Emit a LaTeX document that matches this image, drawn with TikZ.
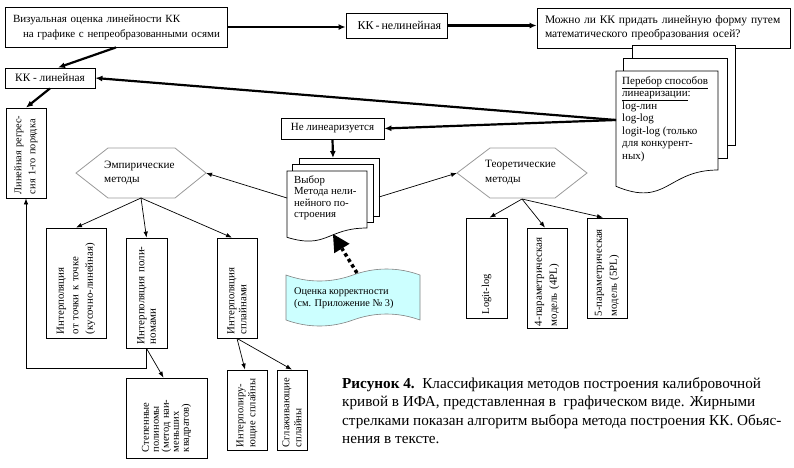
\documentclass[tikz,border=0pt]{standalone}
\usepackage{fontspec}
\setmainfont{Liberation Serif}
\usetikzlibrary{arrows.meta,calc}
\definecolor{cyanfill}{RGB}{204,255,255}
\newcommand{\fs}[2]{\fontsize{#1}{#2}\selectfont}
\tikzset{
 bx/.style={draw, line width=0.8pt, fill=white, inner sep=2pt},
 vbox/.style={draw, line width=0.8pt, fill=white, rotate=90, align=left, inner xsep=4pt, inner ysep=0pt},
 txt/.style={align=left, inner sep=0pt},
 thk/.style={line width=2.2pt, -{Latex[length=7pt,width=6pt]}},
 thn/.style={line width=0.7pt, -{Latex[length=6pt,width=4.5pt]}},
 hex/.style={draw=gray!80, line width=0.8pt},
 sheet/.style={draw, line width=0.7pt, fill=white},
 dotarr/.style={line width=3.5pt, dash pattern=on 3.5pt off 3pt, -{Triangle[length=17pt,width=18pt,line width=0pt]}},
}
\begin{document}
\begin{tikzpicture}[x=1pt,y=-1pt]
\useasboundingbox (0,0) rectangle (794,467);

% top row
\node[bx, minimum width=222pt, minimum height=40pt, text width=206pt, align=left, font=\fs{11}{15}] (b1) at (116,27)
  {\makebox[165pt][s]{Визуальная оценка линейности КК}\\\mbox{\hspace*{10pt}на графике с непреобразованными осями}};
\node[bx, minimum width=101pt, minimum height=25pt, font=\fs{12}{14}] (knl) at (396.5,25.5) {\makebox[78pt][s]{КК - нелинейная}};
\node[bx, minimum width=253pt, minimum height=40pt, text width=237pt, align=left, font=\fs{11.5}{14}] (b3) at (663.5,28)
  {\mbox{Можно ли КК придать линейную форму путем}\\\mbox{математического преобразования осей?}};
\node[bx, minimum width=90pt, minimum height=20pt, font=\fs{11.3}{14}] (kl) at (50,78) {КК - линейная};
\node[bx, minimum width=103pt, minimum height=21pt, font=\fs{11}{14}] (nl) at (332.5,128.5) {Не линеаризуется};

% Perebor stack
\draw[sheet] (632,45) rectangle (735,145);
\draw[sheet] (623,58) rectangle (727,158);
\draw[sheet] (616,71) -- (718,71) -- (718,170) .. controls (667,170) and (667,207.7) .. (616,186.3) -- cycle;
\node[txt, anchor=west, font=\fs{11}{12.5}] (per) at (622,119)
  {\underline{Перебор способов}\\\underline{линеаризации}:\\log-лин\\log-log\\\mbox{logit-log (только}\\\mbox{для конкурент-}\\ных)};
\coordinate (per-l) at (616,120);

% Vybor stack
\draw[sheet] (299,158) rectangle (379,216);
\draw[sheet] (292,164) rectangle (373,222);
\draw[sheet] (287,171) -- (367,171) -- (367,228) .. controls (327,228) and (327,249.6) .. (287,237.3) -- cycle;
\node[txt, anchor=west, font=\fs{10.8}{11.5}] (vyb) at (294,198)
  {Выбор\\\mbox{Метода нели-}\\\mbox{нейного по-}\\строения};
\coordinate (vyb-t) at (333,158);
\coordinate (vyb-l) at (287,198);
\coordinate (vyb-r) at (379,197);
\coordinate (vyb-b) at (333,234);

% hexagons
\draw[hex] (76,173) -- (108,148) -- (175,148) -- (206,173) -- (175,198) -- (108,198) -- cycle;
\node[txt, anchor=west, font=\fs{11.2}{14}] (emp) at (104,173) {Эмпирические\\методы};
\coordinate (emp-r) at (206,173);
\coordinate (emp-b) at (141,198);
\draw[hex] (457,173) -- (490,148) -- (555,148) -- (587,173) -- (555,198) -- (490,198) -- cycle;
\node[txt, anchor=west, font=\fs{11.2}{15}] (teo) at (485,172.5) {Теоретические\\методы};
\coordinate (teo-l) at (457,173);
\coordinate (teo-b) at (522,199);

% cyan tape
\draw[draw=gray, line width=0.6pt, fill=cyanfill] (286,275) .. controls (308,283) and (331,283) .. (353,275)
  .. controls (375,267) and (398,267) .. (420,275) -- (420,320)
  .. controls (398,312) and (375,312) .. (353,320) .. controls (331,328) and (308,328) .. (286,320) -- cycle;
\node[txt, anchor=west, font=\fs{10.3}{12}] (ocen) at (294,298) {Оценка корректности\\(см. Приложение № 3)};
\coordinate (ocen-t) at (357,273);

% vertical boxes
\node[vbox, minimum width=90pt, minimum height=40pt, text width=82pt, font=\fs{10.3}{14}] (lr) at (26,153)
  {\mbox{Линейная регрес-}\\\mbox{сия 1-го порядка}};
\node[vbox, minimum width=110pt, minimum height=60pt, text width=102pt, font=\fs{10.8}{14.5}] (int1) at (76,283)
  {Интерполяция\\\mbox{от точки к точке}\\\mbox{(кусочно-линейная)}};
\node[vbox, minimum width=110pt, minimum height=41pt, text width=102pt, font=\fs{11}{11.5}] (int2) at (146.5,293)
  {\mbox{Интерполяция поли-}\\номами};
\node[vbox, minimum width=100pt, minimum height=40pt, text width=92pt, font=\fs{10.8}{12}] (int3) at (237,288)
  {Интерполяция\\сплайнами};
\node[vbox, minimum width=80pt, minimum height=81pt, text width=68pt, inner xsep=6pt, font=\fs{10.5}{10}] (step) at (166.5,418)
  {Степенные\\полиномы\\\mbox{(метод наи-}\\меньших\\квадратов)};
\node[vbox, minimum width=80pt, minimum height=40pt, text width=74pt, inner xsep=3pt, font=\fs{10.5}{12}] (is1) at (247,410)
  {\mbox{Интерполиру-}\\\mbox{ющие сплайны}};
\node[vbox, minimum width=80pt, minimum height=30pt, text width=74pt, inner xsep=3pt, font=\fs{10.5}{12}] (ss) at (292,410)
  {Сглаживающие\\сплайны};
\node[vbox, minimum width=100pt, minimum height=41pt, text width=92pt, font=\fs{10.5}{14}] (logit) at (486.5,268)
  {\mbox{Logit-log}};
\node[vbox, minimum width=100pt, minimum height=40pt, text width=96pt, inner xsep=2pt, font=\fs{10.9}{15}] (pl4) at (547,278)
  {\mbox{4-параметрическая}\\\mbox{модель (4PL)}};
\node[vbox, minimum width=100pt, minimum height=40pt, text width=96pt, inner xsep=2pt, font=\fs{10.7}{15}] (pl5) at (607,268)
  {\mbox{5-параметрическая}\\\mbox{модель (5PL)}};

% caption
\node[txt, anchor=west, font=\fs{15.2}{18.5}] (cap) at (342,410.5)
  {\textbf{Рисунок 4.}\ \ Классификация методов построения калибровочной\\
   кривой в ИФА, представленная в\ \ графическом виде. Жирными\\
   стрелками показан алгоритм выбора метода построения КК. Обьяс-\\
   нения в тексте.};

% connectors
\draw[thk] (b1.east) -- (knl.west |- b1.east);
\draw[thk] (knl.east) -- (b3.west |- knl.east);
\draw[thk] (b1.south) -- ([xshift=8pt]kl.north);
\draw[thk] (kl.south) -- (lr.east);
\draw[thk] (per-l) -- (kl.east);
\draw[thk] (per-l) -- (nl.east);
\draw[thk] (nl.south) -- (vyb-t);
\draw[thn] (vyb-l) -- (emp-r);
\draw[thn] (vyb-r) -- (teo-l);
\draw[thn] (emp-b) -- (int1.east);
\draw[thn] (emp-b) -- (int2.east);
\draw[thn] (emp-b) -- ([xshift=-5pt]int3.east);
\draw[thn] (int2.west) -- ++(0,20) -| (lr.west);
\draw[thn] (int2.west) -- ([xshift=-3pt]step.east);
\draw[thn] (int3.west) -- ([xshift=-2pt]is1.east);
\draw[thn] (int3.west) -- (ss.east);
\draw[thn] (teo-b) -- ([xshift=3pt]logit.east);
\draw[thn] (teo-b) -- ([xshift=-2pt]pl4.east);
\draw[thn] (teo-b) -- ([xshift=-4pt]pl5.east);
\draw[dotarr] (ocen-t) -- (vyb-b);
\end{tikzpicture}
\end{document}
